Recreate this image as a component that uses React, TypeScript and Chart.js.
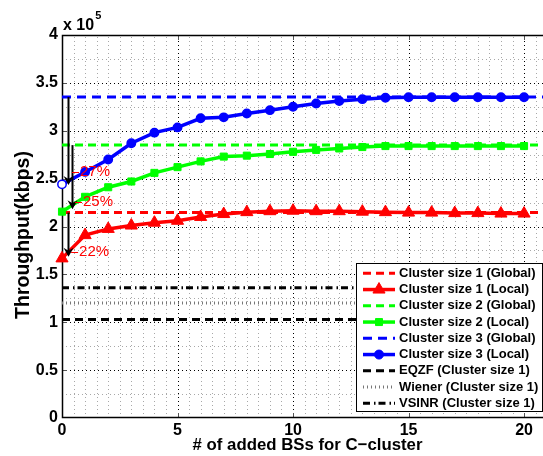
import React, { useEffect, useRef } from 'react';
import { Chart, registerables } from 'chart.js';

Chart.register(...registerables);

// ---------- data (throughput in units of 1e5 kbps) ----------
const addedBSs = [0, 1, 2, 3, 4, 5, 6, 7, 8, 9, 10, 11, 12, 13, 14, 15, 16, 17, 18, 19, 20];
const cluster1Local = [1.667, 1.91, 1.975, 2.01, 2.04, 2.06, 2.1, 2.13, 2.15, 2.16, 2.165, 2.16, 2.16, 2.155, 2.15, 2.145, 2.145, 2.14, 2.14, 2.135, 2.135];
const cluster2Local = [2.155, 2.31, 2.41, 2.47, 2.56, 2.62, 2.68, 2.73, 2.74, 2.757, 2.78, 2.8, 2.815, 2.83, 2.84, 2.84, 2.84, 2.84, 2.84, 2.84, 2.84];
const cluster3Local = [2.44, 2.57, 2.7, 2.87, 2.98, 3.035, 3.13, 3.14, 3.18, 3.215, 3.25, 3.285, 3.31, 3.33, 3.345, 3.35, 3.35, 3.35, 3.35, 3.35, 3.35];
const cluster1Global = 2.145;
const cluster2Global = 2.85;
const cluster3Global = 3.352;
const eqzfLevel = 1.03;
const wienerLevel = 1.2;
const vsinrLevel = 1.36;

const legendLabels = [
  'Cluster size 1 (Global)',
  'Cluster size 1 (Local)',
  'Cluster size 2 (Global)',
  'Cluster size 2 (Local)',
  'Cluster size 3 (Global)',
  'Cluster size 3 (Local)',
  'EQZF (Cluster size 1)',
  'Wiener (Cluster size 1)',
  'VSINR (Cluster size 1)',
];

const xTitle = '# of added BSs for C\u2212cluster';
const yTitle = 'Throughput(kbps)';

// gain annotations (data units)
const gainTexts = ['27%', '25%', '22%'];
const gainArrowX = [0.25, 0.42, 0.25];
const gainArrowFrom = [3.352, 2.85, 2.145];
const gainArrowTo = [2.433, 2.18, 1.685];
const gainTextX = [0.78, 0.91, 0.74];
const gainTextY = [2.57, 2.256, 1.734];

const X_MIN = 0;
const X_MAX = 20.82;
const X_STEP = 0.5;
const X_MAJOR = 5;
const Y_MIN = 0;
const Y_MAX = 4;
const Y_STEP = 0.25;
const Y_MAJOR = 0.5;
const LINE_END = 21;

const FONT = "'Liberation Sans', Arial, Helvetica, sans-serif";
const RED = '#ff0000';
const GREEN = '#00ff00';
const BLUE = '#0000ff';
const BLACK = '#000000';

type Style = { color: string; dash: number[]; width: number; marker?: string };
const styles: Style[] = [
  { color: RED, dash: [8, 5], width: 3 },
  { color: RED, dash: [], width: 3.5, marker: 'triangle' },
  { color: GREEN, dash: [8, 5], width: 3 },
  { color: GREEN, dash: [], width: 3.5, marker: 'rect' },
  { color: BLUE, dash: [9, 6], width: 3 },
  { color: BLUE, dash: [], width: 3.5, marker: 'circle' },
  { color: BLACK, dash: [8, 5], width: 3 },
  { color: '#777777', dash: [1, 3], width: 3 },
  { color: BLACK, dash: [7, 4, 1.5, 3], width: 3 },
];

const isMult = (v: number, m: number) => Math.abs(v / m - Math.round(v / m)) < 1e-9;

function drawMarker(ctx: CanvasRenderingContext2D, kind: string, x: number, y: number, color: string) {
  ctx.save();
  ctx.setLineDash([]);
  ctx.fillStyle = color;
  ctx.strokeStyle = color;
  ctx.lineWidth = 1;
  ctx.beginPath();
  if (kind === 'triangle') {
    const r = 7;
    ctx.moveTo(x, y - r);
    ctx.lineTo(x + r * 0.866, y + r * 0.5);
    ctx.lineTo(x - r * 0.866, y + r * 0.5);
    ctx.closePath();
  } else if (kind === 'rect') {
    ctx.rect(x - 3.5, y - 3.5, 7, 7);
  } else {
    ctx.arc(x, y, 4.5, 0, Math.PI * 2);
  }
  ctx.fill();
  ctx.stroke();
  ctx.restore();
}

const decor = {
  id: 'matlabDecor',
  beforeDatasetsDraw(chart: any) {
    const { ctx, chartArea } = chart;
    const { left, right, top, bottom } = chartArea;
    const xs = chart.scales.x;
    const ys = chart.scales.y;
    ctx.save();
    ctx.lineWidth = 1;
    ctx.setLineDash([1, 3]);
    xs.ticks.forEach((t: any) => {
      if (t.value <= X_MIN) return;
      const major = isMult(t.value, X_MAJOR);
      const px = Math.round(xs.getPixelForValue(t.value)) + 0.5;
      ctx.strokeStyle = major ? '#000000' : '#a8a8a8';
      ctx.beginPath();
      ctx.moveTo(px, bottom);
      ctx.lineTo(px, top);
      ctx.stroke();
    });
    ys.ticks.forEach((t: any) => {
      if (t.value <= Y_MIN || t.value >= Y_MAX) return;
      const major = isMult(t.value, Y_MAJOR);
      const py = Math.round(ys.getPixelForValue(t.value)) + 0.5;
      ctx.strokeStyle = major ? '#000000' : '#a8a8a8';
      ctx.beginPath();
      ctx.moveTo(left, py);
      ctx.lineTo(right, py);
      ctx.stroke();
    });
    ctx.setLineDash([]);
    ctx.strokeStyle = '#555555';
    xs.ticks.forEach((t: any) => {
      if (!isMult(t.value, X_MAJOR) || t.value <= X_MIN) return;
      const px = Math.round(xs.getPixelForValue(t.value)) + 0.5;
      ctx.beginPath();
      ctx.moveTo(px, bottom);
      ctx.lineTo(px, bottom - 5);
      ctx.moveTo(px, top);
      ctx.lineTo(px, top + 5);
      ctx.stroke();
    });
    ys.ticks.forEach((t: any) => {
      if (!isMult(t.value, Y_MAJOR) || t.value <= Y_MIN || t.value >= Y_MAX) return;
      const py = Math.round(ys.getPixelForValue(t.value)) + 0.5;
      ctx.beginPath();
      ctx.moveTo(left, py);
      ctx.lineTo(left + 5, py);
      ctx.stroke();
    });
    ctx.strokeStyle = '#000000';
    ctx.lineWidth = 1.5;
    ctx.beginPath();
    ctx.moveTo(right, top + 0.5);
    ctx.lineTo(left + 0.5, top + 0.5);
    ctx.lineTo(left + 0.5, bottom - 0.5);
    ctx.lineTo(right, bottom - 0.5);
    ctx.stroke();
    ctx.restore();
  },
  afterDatasetsDraw(chart: any) {
    const { ctx, chartArea } = chart;
    const { left, top, bottom } = chartArea;
    const xs = chart.scales.x;
    const ys = chart.scales.y;
    ctx.save();
    gainTexts.forEach((_, i) => {
      const x = Math.round(xs.getPixelForValue(gainArrowX[i])) + 0.5;
      const y0 = ys.getPixelForValue(gainArrowFrom[i]);
      const y1 = ys.getPixelForValue(gainArrowTo[i]);
      ctx.strokeStyle = '#000';
      ctx.fillStyle = '#000';
      ctx.lineWidth = 2;
      ctx.setLineDash([]);
      ctx.beginPath();
      ctx.moveTo(x, y0);
      ctx.lineTo(x, y1 - 5);
      ctx.stroke();
      ctx.beginPath();
      ctx.moveTo(x, y1);
      ctx.lineTo(x - 5, y1 - 9);
      ctx.lineTo(x, y1 - 6);
      ctx.lineTo(x + 5, y1 - 9);
      ctx.closePath();
      ctx.fill();
    });
    ctx.font = `15px ${FONT}`;
    ctx.textBaseline = 'middle';
    ctx.textAlign = 'left';
    gainTexts.forEach((txt, i) => {
      const x = xs.getPixelForValue(gainTextX[i]);
      const y = ys.getPixelForValue(gainTextY[i]);
      ctx.strokeStyle = RED;
      ctx.lineWidth = 1;
      ctx.beginPath();
      ctx.moveTo(x - 8, Math.round(y) + 0.5);
      ctx.lineTo(x - 1, Math.round(y) + 0.5);
      ctx.stroke();
      ctx.fillStyle = RED;
      ctx.fillText(txt, x, y);
    });
    // exponent label
    ctx.fillStyle = '#000';
    ctx.font = `bold 16px ${FONT}`;
    ctx.fillText('x 10', left + 1, top - 9);
    const w = ctx.measureText('x 10').width;
    ctx.font = `bold 11px ${FONT}`;
    ctx.fillText('5', left + 2 + w, top - 19);
    // axis titles
    ctx.textAlign = 'center';
    ctx.textBaseline = 'alphabetic';
    ctx.font = `bold 16.8px ${FONT}`;
    ctx.fillText(xTitle, 307.5, bottom + 32);
    ctx.save();
    ctx.translate(28.5, 235);
    ctx.rotate(-Math.PI / 2);
    ctx.font = `bold 19.5px ${FONT}`;
    ctx.fillText(yTitle, 0, 0);
    ctx.restore();
    // legend
    ctx.textAlign = 'left';
    ctx.textBaseline = 'middle';
    const bx = 356.5, by = 263.5, bw = 186, bh = 148;
    ctx.fillStyle = '#ffffff';
    ctx.fillRect(bx, by, bw, bh);
    ctx.strokeStyle = '#000';
    ctx.lineWidth = 1;
    ctx.strokeRect(bx, by, bw, bh);
    ctx.font = `bold 13px ${FONT}`;
    legendLabels.forEach((lab, i) => {
      const st = styles[i];
      const y = 273.3 + i * 16.25;
      ctx.strokeStyle = st.color;
      ctx.lineWidth = st.width;
      ctx.setLineDash(st.dash);
      ctx.beginPath();
      ctx.moveTo(363, y);
      ctx.lineTo(395, y);
      ctx.stroke();
      ctx.setLineDash([]);
      if (st.marker) drawMarker(ctx, st.marker, 379, y, st.color);
      ctx.fillStyle = '#000';
      ctx.fillText(lab, 399, y);
    });
    ctx.restore();
  },
};

export default function App() {
  const ref = useRef<HTMLCanvasElement | null>(null);
  useEffect(() => {
    document.body.style.margin = '0';
    document.body.style.overflow = 'hidden';
    const canvas = ref.current;
    if (!canvas) return;
    const pts = (ys: number[]) => addedBSs.map((x, i) => ({ x, y: ys[i] }));
    const hline = (y: number) => [{ x: X_MIN, y }, { x: LINE_END, y }];
    const lineDs = (i: number, data: any[]) => {
      const st = styles[i];
      const ds: any = {
        label: legendLabels[i],
        data,
        borderColor: st.color,
        backgroundColor: st.color,
        borderWidth: st.width,
        borderDash: st.dash,
        fill: false,
        tension: 0,
        pointRadius: 0,
      };
      if (st.marker) {
        ds.pointStyle = st.marker;
        ds.clip = false;
        ds.pointBorderColor = st.color;
        ds.pointBackgroundColor = st.color;
        ds.pointBorderWidth = 1;
        ds.pointRadius = st.marker === 'triangle' ? 7 : st.marker === 'rect' ? 5 : 4.2;
        if (st.marker === 'circle') {
          ds.pointBorderWidth = 1.5;
          ds.pointBackgroundColor = data.map((_: any, k: number) => (k === 0 ? '#ffffff' : st.color));
        }
      }
      return ds;
    };
    const datasets = [
      lineDs(5, pts(cluster3Local)),
      lineDs(3, pts(cluster2Local)),
      lineDs(1, pts(cluster1Local)),
      lineDs(4, hline(cluster3Global)),
      lineDs(2, hline(cluster2Global)),
      lineDs(0, hline(cluster1Global)),
      lineDs(6, hline(eqzfLevel)),
      lineDs(7, hline(wienerLevel)),
      lineDs(8, hline(vsinrLevel)),
    ];
    const chart = new Chart(canvas, {
      type: 'line',
      data: { datasets },
      options: {
        animation: false,
        responsive: false,
        devicePixelRatio: 1,
        events: [],
        layout: { autoPadding: false, padding: { top: 35, right: 0, bottom: 0, left: 0 } },
        plugins: { legend: { display: false }, tooltip: { enabled: false } },
        scales: {
          x: {
            type: 'linear',
            min: X_MIN,
            max: X_MAX,
            afterFit: (s: any) => { s.height = 38; s.paddingLeft = 0; s.paddingRight = 0; },
            grid: { display: false, drawTicks: false },
            border: { display: false },
            ticks: {
              stepSize: X_STEP,
              autoSkip: false,
              includeBounds: false,
              maxRotation: 0,
              minRotation: 0,
              padding: 3,
              color: '#000',
              font: { family: FONT, size: 16, weight: 'bold' },
              callback: (v: any) => (isMult(Number(v), X_MAJOR) ? String(v) : ''),
            },
            title: { display: false },
          },
          y: {
            type: 'linear',
            min: Y_MIN,
            max: Y_MAX,
            afterFit: (s: any) => { s.width = 62; s.paddingTop = 0; s.paddingBottom = 0; },
            grid: { display: false, drawTicks: false },
            border: { display: false },
            ticks: {
              stepSize: Y_STEP,
              autoSkip: false,
              includeBounds: false,
              padding: 4,
              color: '#000',
              font: { family: FONT, size: 16, weight: 'bold' },
              callback: (v: any) => (isMult(Number(v), Y_MAJOR) ? String(v) : ''),
            },
            title: { display: false },
          },
        },
      } as any,
      plugins: [decor],
    });
    return () => chart.destroy();
  }, []);
  return (
    <div style={{ width: 543, height: 456, position: 'relative', background: '#fff' }}>
      <canvas ref={ref} width={543} height={456} style={{ display: 'block' }} />
    </div>
  );
}
